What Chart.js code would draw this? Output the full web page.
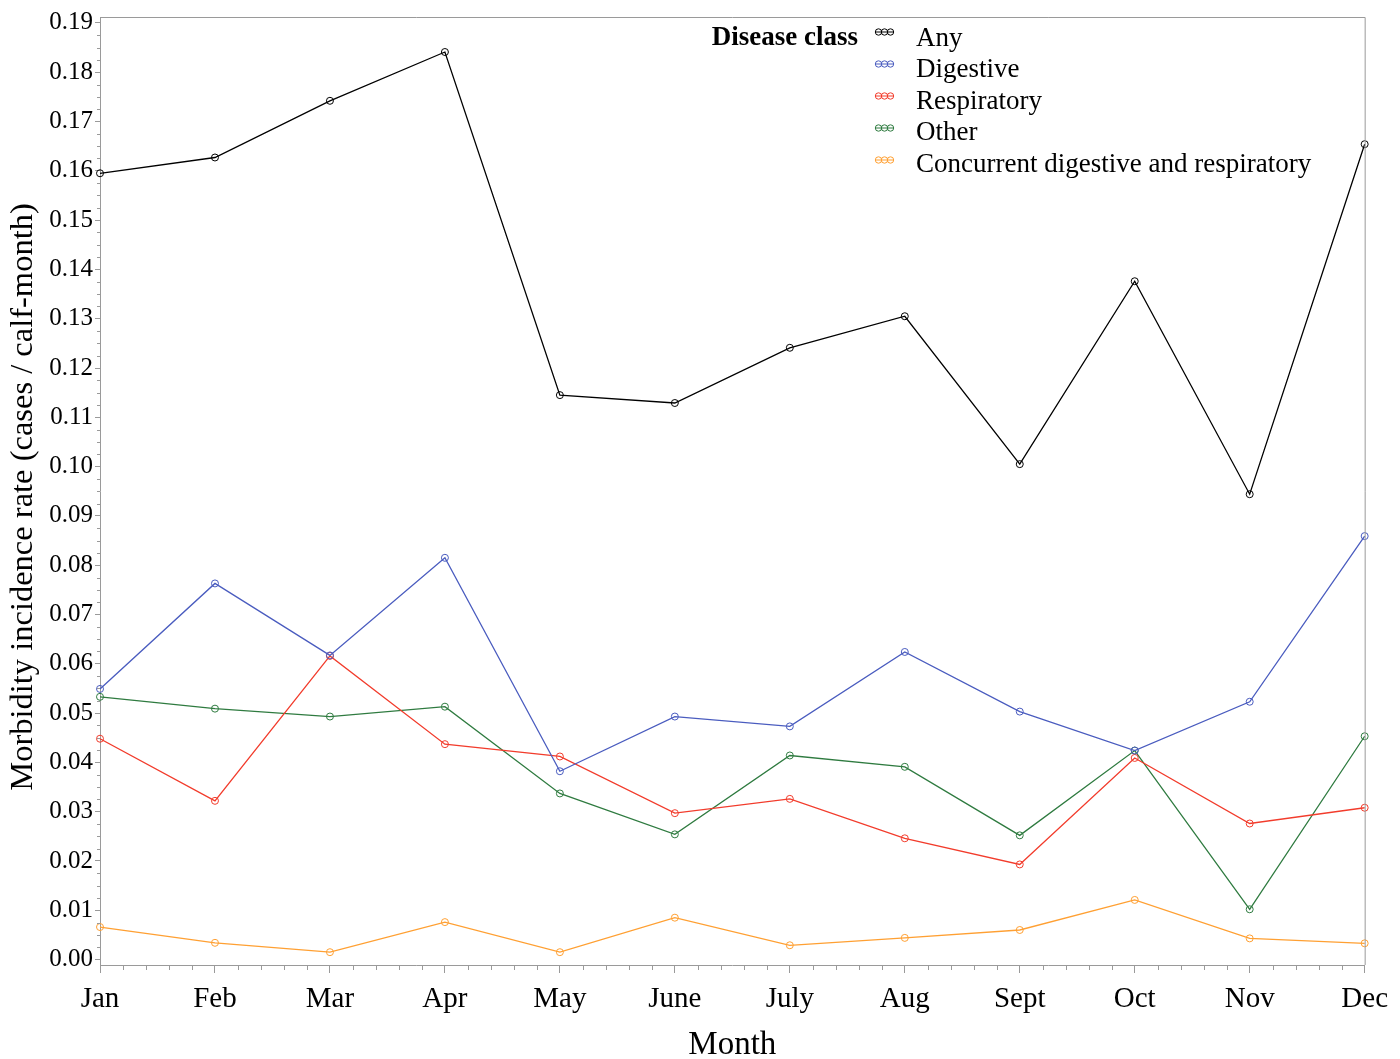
<!DOCTYPE html>
<html>
<head>
<meta charset="utf-8">
<script src="https://cdn.jsdelivr.net/npm/chart.js@4/dist/chart.umd.min.js"></script>
<style>
  html, body { margin: 0; padding: 0; background: #fff; }
  #wrap { width: 1400px; height: 1059px; position: relative; }
</style>
</head>
<body>
<div id="wrap"><canvas id="rateChart"></canvas></div>
<script>
// Monthly morbidity incidence rate by disease class
const months = ['Jan', 'Feb', 'Mar', 'Apr', 'May', 'June', 'July', 'Aug', 'Sept', 'Oct', 'Nov', 'Dec'];
const anyRate         = [0.1595, 0.1627, 0.1742, 0.1841, 0.1145, 0.1129, 0.1241, 0.1305, 0.1005, 0.1376, 0.0944, 0.1654];
const digestiveRate   = [0.0549, 0.0763, 0.0617, 0.0815, 0.0382, 0.0493, 0.0473, 0.0624, 0.0503, 0.0424, 0.0523, 0.0859];
const respiratoryRate = [0.0448, 0.0322, 0.0616, 0.0437, 0.0412, 0.0297, 0.0326, 0.0246, 0.0193, 0.0409, 0.0276, 0.0308];
const otherRate       = [0.0533, 0.0509, 0.0493, 0.0513, 0.0337, 0.0254, 0.0414, 0.0391, 0.0252, 0.0424, 0.0102, 0.0453];
const concurrentRate  = [0.0066, 0.0034, 0.0015, 0.0076, 0.0015, 0.0085, 0.0029, 0.0044, 0.0060, 0.0121, 0.0043, 0.0033];
const yTicks = [0.00, 0.01, 0.02, 0.03, 0.04, 0.05, 0.06, 0.07, 0.08, 0.09, 0.10,
                0.11, 0.12, 0.13, 0.14, 0.15, 0.16, 0.17, 0.18, 0.19];

const serif = "'Liberation Serif', 'Times New Roman', serif";
const axisGray = '#9a9a9a';
const yTitle = 'Morbidity incidence rate (cases / calf-month)';

function series(label, data, color) {
    return {
        label: label,
        data: data,
        borderColor: color,
        borderWidth: 1.3,
        pointStyle: 'circle',
        pointRadius: 3.5,
        pointBorderWidth: 1,
        pointBorderColor: color,
        pointBackgroundColor: 'rgba(0,0,0,0)',
        tension: 0,
        fill: false
    };
}

// frame on top/right plus minor ticks on both axes
const framePlugin = {
    id: 'frame',
    afterDraw(chart) {
        const ctx = chart.ctx;
        const a = chart.chartArea;
        const xs = chart.scales.x, ys = chart.scales.y;
        ctx.save();
        ctx.strokeStyle = axisGray;
        ctx.lineWidth = 1;
        ctx.beginPath();
        ctx.moveTo(a.left, a.top + 0.5);
        ctx.lineTo(a.right + 0.5, a.top + 0.5);
        ctx.lineTo(a.right + 0.5, a.bottom);
        ctx.stroke();

        ctx.beginPath();
        for (let i = 0; i < yTicks.length - 1; i++) {
            for (let k = 1; k < 4; k++) {
                const v = yTicks[i] + (yTicks[i + 1] - yTicks[i]) * k / 4;
                const py = Math.round(ys.getPixelForValue(v)) + 0.5;
                ctx.moveTo(a.left - 3, py);
                ctx.lineTo(a.left, py);
            }
        }
        for (let i = 0; i < months.length - 1; i++) {
            const p0 = xs.getPixelForValue(i), p1 = xs.getPixelForValue(i + 1);
            for (let k = 1; k < 5; k++) {
                const px = Math.round(p0 + (p1 - p0) * k / 5) + 0.5;
                ctx.moveTo(px, a.bottom);
                ctx.lineTo(px, a.bottom + 5);
            }
        }
        ctx.stroke();

        // y axis title, placed where the original has it
        ctx.fillStyle = '#000';
        ctx.font = '32.5px ' + serif;
        ctx.textAlign = 'center';
        ctx.textBaseline = 'middle';
        ctx.translate(23, 497);
        ctx.rotate(-Math.PI / 2);
        ctx.fillText(yTitle, 0, 0);
        ctx.restore();
    }
};

// legend with title on the left, like the original
const legendPlugin = {
    id: 'sideLegend',
    afterDraw(chart) {
        const ctx = chart.ctx;
        ctx.save();
        ctx.fillStyle = '#000';
        ctx.textBaseline = 'alphabetic';
        ctx.font = 'bold 27px ' + serif;
        ctx.textAlign = 'right';
        ctx.fillText('Disease class', 858, 45);
        ctx.font = '27px ' + serif;
        ctx.textAlign = 'left';
        chart.data.datasets.forEach(function(ds, i) {
            const sy = 32 + 32 * i;
            ctx.strokeStyle = ds.borderColor;
            ctx.lineWidth = 1;
            ctx.beginPath();
            ctx.moveTo(875, sy);
            ctx.lineTo(894, sy);
            ctx.stroke();
            [878.5, 884.5, 890.5].forEach(function(cx) {
                ctx.beginPath();
                ctx.arc(cx, sy, 3.2, 0, Math.PI * 2);
                ctx.stroke();
            });
            ctx.fillText(ds.label, 916, 45.5 + 31.6 * i);
        });
        ctx.restore();
    }
};

const ctx = document.getElementById('rateChart').getContext('2d');
new Chart(ctx, {
    type: 'line',
    data: {
        labels: months,
        datasets: [
            series('Any', anyRate, '#000000'),
            series('Digestive', digestiveRate, '#4a5cbf'),
            series('Respiratory', respiratoryRate, '#f23c2c'),
            series('Other', otherRate, '#2f7b40'),
            series('Concurrent digestive and respiratory', concurrentRate, '#ffa033')
        ]
    },
    options: {
        responsive: true,
        maintainAspectRatio: false,
        animation: false,
        events: [],
        layout: { padding: { top: 14, right: 34, bottom: 0, left: 0 } },
        plugins: {
            legend: { display: false },
            tooltip: { enabled: false }
        },
        scales: {
            x: {
                type: 'category',
                offset: false,
                afterFit: function(s) { s.height = 94; },
                grid: { drawOnChartArea: false, drawTicks: true, tickLength: 8, tickColor: axisGray },
                border: { color: axisGray, width: 1 },
                ticks: {
                    autoSkip: false, maxRotation: 0, padding: 12, color: '#000',
                    font: { family: serif, size: 29, lineHeight: 1 }
                },
                title: {
                    display: true, text: 'Month', color: '#000', padding: { top: 0, bottom: -3 },
                    font: { family: serif, size: 33, lineHeight: 1 }
                }
            },
            y: {
                min: -0.0011,
                max: 0.1912,
                afterFit: function(s) { s.width = 100; },
                afterBuildTicks: function(s) { s.ticks = yTicks.map(v => ({ value: v })); },
                grid: { drawOnChartArea: false, drawTicks: true, tickLength: 5, tickColor: axisGray },
                border: { color: axisGray, width: 1 },
                ticks: {
                    padding: 2, color: '#000',
                    font: { family: serif, size: 25 },
                    callback: function(v) { return Number(v).toFixed(2); }
                },
                title: { display: false }
            }
        }
    },
    plugins: [framePlugin, legendPlugin]
});
</script>
</body>
</html>
